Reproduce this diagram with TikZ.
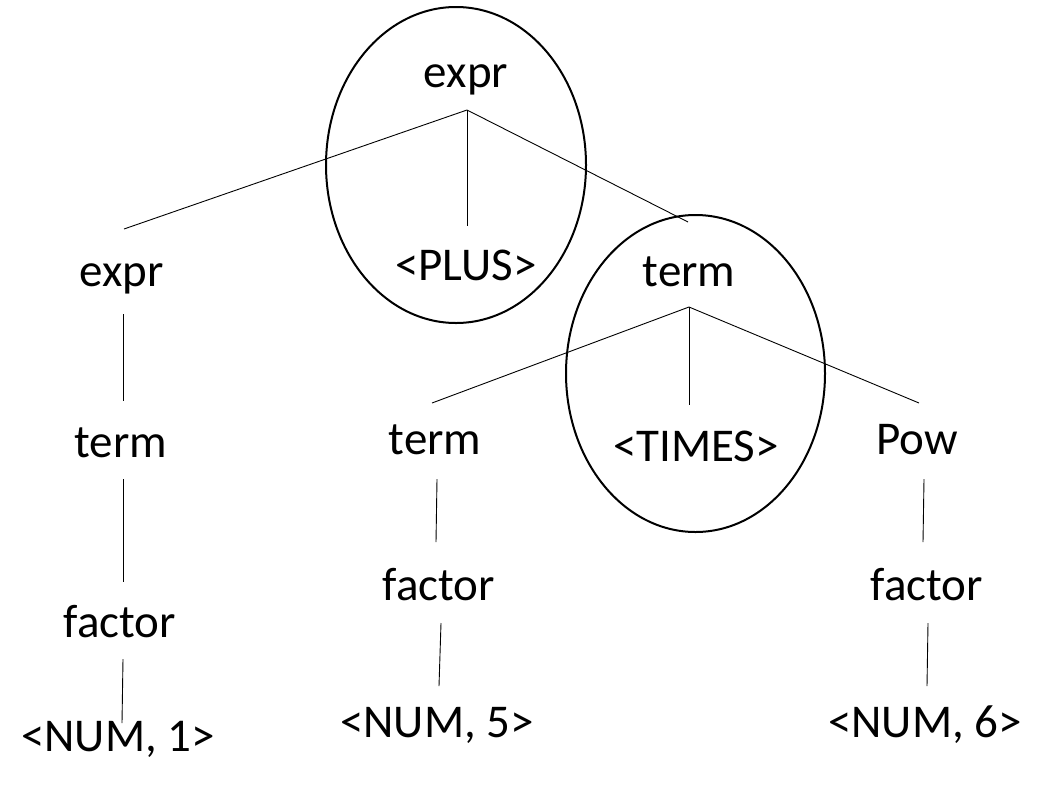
\documentclass[tikz,border=0pt]{standalone}
\usepackage{fontspec}
\setmainfont{Carlito}
\begin{document}
\begin{tikzpicture}[x=1pt,y=-1pt,
  lbl/.style={anchor=base,inner sep=0pt,font=\fontsize{47}{56}\selectfont},
  edge/.style={line width=0.9pt},
  ring/.style={line width=2pt}]
\useasboundingbox (0,0) rectangle (1038,785);

% grammar symbols (placed on their baselines)
\node[lbl] (exprTop) at (466,87)  {expr};
\node[lbl] (exprL)   at (122,286) {expr};
\node[lbl] (plus)    at (466,280) {<PLUS>};
\node[lbl] (termR)   at (689,286) {term};
\node[lbl] (termL)   at (121,457) {term};
\node[lbl] (termM)   at (435,454) {term};
\node[lbl] (times)   at (696,461) {<TIMES>};
\node[lbl] (pow)     at (917,454) {Pow};
\node[lbl] (factL)   at (120,637) {factor};
\node[lbl] (factM)   at (439,600) {factor};
\node[lbl] (factR)   at (927,600) {factor};
\node[lbl] (num1)    at (118,751) {<NUM, 1>};
\node[lbl] (num5)    at (437,737) {<NUM, 5>};
\node[lbl] (num6)    at (925,737) {<NUM, 6>};

% branch points and edge ends
\coordinate (jTop)  at (467,110);
\coordinate (jTerm) at (689,307);
\coordinate (exprL-n) at (124,229);
\coordinate (exprL-s) at (123,314);
\coordinate (plus-n)  at (467,226);
\coordinate (termR-n) at (688,222);
\coordinate (termL-n) at (123,401);
\coordinate (termL-s) at (123,479);
\coordinate (factL-n) at (123,582);
\coordinate (factL-s) at (123,659);
\coordinate (num1-n)  at (122,723);
\coordinate (termM-n) at (432,403);
\coordinate (termM-s) at (437,479);
\coordinate (times-n) at (689,405);
\coordinate (pow-n)   at (919,403);
\coordinate (pow-s)   at (924,479);
\coordinate (factM-n) at (436,542);
\coordinate (factM-s) at (441,623);
\coordinate (num5-n)  at (439,686);
\coordinate (factR-n) at (923,542);
\coordinate (factR-s) at (928,623);
\coordinate (num6-n)  at (927,686);

% tree edges
\draw[edge] (exprL-n) -- (jTop) -- (termR-n);
\draw[edge] (jTop) -- (plus-n);
\draw[edge] (exprL-s) -- (termL-n);
\draw[edge] (termL-s) -- (factL-n);
\draw[edge] (factL-s) -- (num1-n);
\draw[edge] (termM-n) -- (jTerm) -- (pow-n);
\draw[edge] (jTerm) -- (times-n);
\draw[edge] (termM-s) -- (factM-n);
\draw[edge] (factM-s) -- (num5-n);
\draw[edge] (pow-s) -- (factR-n);
\draw[edge] (factR-s) -- (num6-n);

% highlighted subtrees
\draw[ring] (456,165) ellipse [x radius=130pt, y radius=158pt];
\draw[ring] (695.5,373.5) ellipse [x radius=129.5pt, y radius=158.5pt];
\end{tikzpicture}
\end{document}
